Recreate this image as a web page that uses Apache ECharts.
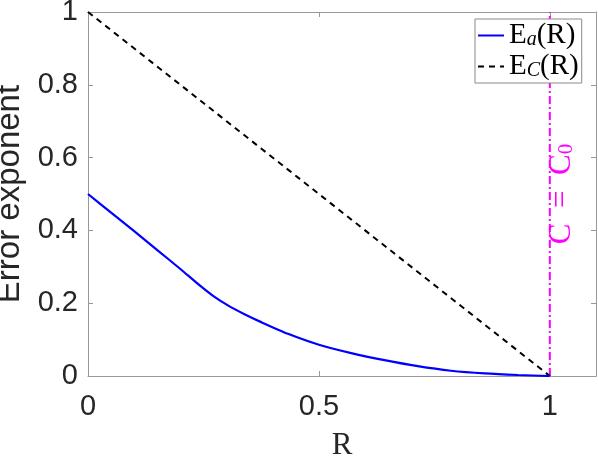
<!DOCTYPE html>
<html>
<head>
<meta charset="utf-8">
<script src="https://cdn.jsdelivr.net/npm/echarts@6/dist/echarts.min.js"></script>
<style>
  html, body { margin: 0; padding: 0; background: #fff; }
  #chart { width: 598px; height: 456px; }
</style>
</head>
<body>
<div id="chart"></div>
<script>
// E_a(R)
const rateA = [0, 0.05, 0.1, 0.15, 0.2, 0.238, 0.27, 0.303, 0.34, 0.375, 0.433, 0.5, 0.57, 0.642, 0.714, 0.786, 0.859, 0.931, 1];
const expA = [0.5, 0.449, 0.398, 0.346, 0.294, 0.253, 0.221, 0.194, 0.169, 0.148, 0.116, 0.086, 0.063, 0.0435, 0.027, 0.0145, 0.007, 0.0027, 0];
// E_C(R)
const rateC = [0, 1];
const expC = [1, 0];
// C = C0 line
const capX = 1;
const xTicks = [0, 0.5, 1];
const yTicks = [0, 0.2, 0.4, 0.6, 0.8, 1];

const axisGray = "#999999";
const serif = "'Liberation Serif', 'DejaVu Serif', serif";
const sans = "'Liberation Sans', Arial, sans-serif";

const chart = echarts.init(document.getElementById("chart"), null, { renderer: "canvas" });

const zipPts = (xs, ys) => xs.map((x, i) => [x, ys[i]]);

const baseX = {
  type: "value",
  min: 0,
  max: 1.1,
  interval: 0.5,
  splitLine: { show: false },
  axisLine: { show: true, onZero: false, lineStyle: { color: axisGray, width: 1 } },
  axisTick: { show: true, inside: true, length: 5, lineStyle: { color: axisGray } },
};
const baseY = {
  type: "value",
  min: 0,
  max: 1,
  interval: 0.2,
  splitLine: { show: false },
  axisLine: { show: true, onZero: false, lineStyle: { color: axisGray, width: 1 } },
  axisTick: { show: true, inside: true, length: 5, lineStyle: { color: axisGray } },
};

const option = {
  animation: false,
  backgroundColor: "#fff",
  grid: { left: 88, right: 2, top: 12, bottom: 80, containLabel: false, outerBoundsMode: "none" },
  legend: {
    orient: "vertical",
    left: 475,
    top: 19,
    data: ["Ea", "EC"],
    backgroundColor: "#fff",
    borderColor: "#8a8a8a",
    borderWidth: 1,
    borderRadius: 0,
    padding: [2, 3, 2, 2],
    itemGap: 2,
    itemWidth: 26,
    itemHeight: 14,
    itemStyle: { opacity: 0 },
    formatter: (name) => (name === "Ea" ? "{n|E}{s|a}{n|(R)}" : "{n|E}{s|C}{n|(R)}"),
    textStyle: {
      color: "#000",
      rich: {
        n: { fontFamily: serif, fontSize: 29, color: "#000" },
        s: { fontFamily: serif, fontSize: 20, fontStyle: "italic", color: "#000", verticalAlign: "bottom", padding: [9, 0, 0, 0] },
      },
    },
  },
  xAxis: [
    Object.assign({}, baseX, {
      position: "bottom",
      name: "R",
      nameLocation: "middle",
      nameGap: 54,
      nameTextStyle: { fontFamily: serif, fontSize: 31, color: "#262626" },
      axisLabel: {
        show: true,
        margin: 16,
        showMaxLabel: false,
        fontFamily: sans,
        fontSize: 29,
        color: "#262626",
        formatter: (v) => (xTicks.indexOf(v) >= 0 ? String(v) : ""),
      },
    }),
    Object.assign({}, baseX, { position: "top", axisLabel: { show: false } }),
  ],
  yAxis: [
    Object.assign({}, baseY, {
      position: "left",
      name: "Error exponent",
      nameLocation: "middle",
      nameGap: 52,
      nameTextStyle: { fontFamily: sans, fontSize: 33, color: "#262626" },
      axisLabel: {
        show: true,
        margin: 10,
        fontFamily: sans,
        fontSize: 29,
        color: "#262626",
        formatter: (v) => (yTicks.indexOf(v) >= 0 ? String(v) : ""),
      },
    }),
    Object.assign({}, baseY, { position: "right", axisLabel: { show: false } }),
  ],
  series: [
    {
      name: "Ea",
      type: "line",
      data: zipPts(rateA, expA),
      smooth: 0.25,
      symbol: "none",
      lineStyle: { color: "#0000ff", width: 2.2 },
      itemStyle: { color: "#0000ff" },
      z: 3,
    },
    {
      name: "EC",
      type: "line",
      data: zipPts(rateC, expC),
      symbol: "none",
      lineStyle: { color: "#000", width: 2, type: [6, 5] },
      itemStyle: { color: "#000" },
      z: 2,
    },
    {
      name: "cap",
      type: "line",
      data: [[capX, 0], [capX, 1]],
      symbol: "none",
      lineStyle: { color: "#ff00ff", width: 2, type: [8, 3, 2, 3] },
      itemStyle: { color: "#ff00ff" },
      z: 1,
    },
  ],
};

chart.setOption(option);

// rotated "C = C0" label next to the capacity line
const p = chart.convertToPixel({ gridIndex: 0 }, [capX, 0.5]);
chart.setOption({
  graphic: [
    {
      type: "text",
      x: p[0] + 12,
      y: p[1],
      rotation: Math.PI / 2,
      style: {
        text: "{n|C\u2002=\u2002C}{s|0}",
        align: "center",
        verticalAlign: "middle",
        fill: "#ff00ff",
        rich: {
          n: { fontFamily: serif, fontSize: 31, fill: "#ff00ff" },
          s: { fontFamily: serif, fontSize: 21, fill: "#ff00ff", verticalAlign: "bottom", padding: [9, 0, 0, 0] },
        },
      },
      z: 10,
    },
  ],
});
</script>
</body>
</html>
